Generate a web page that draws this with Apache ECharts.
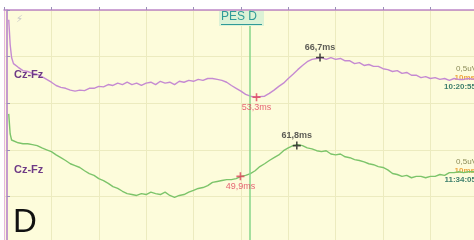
<!DOCTYPE html>
<html>
<head>
<meta charset="utf-8">
<script src="https://cdn.jsdelivr.net/npm/echarts@6/dist/echarts.min.js"></script>
<style>
  html, body { margin: 0; padding: 0; background: #ffffff; }
  #chart { width: 474px; height: 240px; }
</style>
</head>
<body>
<div id="chart"></div>
<script>
// time axis in ms, amplitude in grid divisions (negative up, so axis is inverted)
const times = [1.0, 1.3, 1.6, 2, 3, 4, 5, 6, 7, 8, 9, 10, 11, 12, 13, 14, 15, 16, 17, 18, 19, 20,
  21, 22, 23, 24, 25, 26, 27, 28, 29, 30, 31, 32, 33, 34, 35, 36, 37, 38, 39, 40,
  41, 42, 43, 44, 45, 46, 47, 48, 49, 50, 51, 52, 53, 54, 55, 56, 57, 58, 59, 60,
  61, 62, 63, 64, 65, 66, 67, 68, 69, 70, 71, 72, 73, 74, 75, 76, 77, 78, 79, 80,
  81, 82, 83, 84, 85, 86, 87, 88, 89, 90, 91, 92, 93, 94, 95, 96, 97, 98, 99.2];

// upper trace Cz-Fz (10:20:55)
const traceTop = [0.21, 0.74, 1.02, 1.15, 1.23, 1.30, 1.32, 1.36, 1.38, 1.43, 1.49, 1.55, 1.62, 1.66, 1.68, 1.72, 1.74, 1.72, 1.73, 1.68, 1.68, 1.64,
  1.65, 1.60, 1.62, 1.57, 1.60, 1.55, 1.60, 1.57, 1.62, 1.57, 1.55, 1.60, 1.53, 1.57, 1.55, 1.60, 1.53, 1.55, 1.51, 1.53,
  1.49, 1.51, 1.47, 1.47, 1.49, 1.51, 1.55, 1.62, 1.68, 1.74, 1.81, 1.85, 1.87, 1.86, 1.85, 1.79, 1.72, 1.64, 1.57, 1.47,
  1.38, 1.28, 1.19, 1.11, 1.06, 1.04, 1.02, 1.06, 1.02, 1.06, 1.04, 1.09, 1.09, 1.15, 1.13, 1.19, 1.17, 1.21, 1.21, 1.26,
  1.28, 1.32, 1.30, 1.36, 1.34, 1.40, 1.40, 1.45, 1.43, 1.47, 1.45, 1.49, 1.47, 1.51, 1.47, 1.49, 1.49, 1.47, 1.49];

// lower trace Cz-Fz (11:34:05)
const traceBottom = [2.23, 2.66, 2.79, 2.83, 2.85, 2.87, 2.87, 2.89, 2.91, 2.96, 3.00, 3.04, 3.11, 3.17, 3.23, 3.30, 3.34, 3.38, 3.45, 3.51, 3.55, 3.62,
  3.66, 3.72, 3.79, 3.83, 3.89, 3.94, 3.96, 3.98, 3.94, 3.96, 3.91, 3.94, 3.96, 3.91, 3.98, 4.02, 3.98, 3.96, 3.91, 3.87,
  3.83, 3.81, 3.77, 3.70, 3.68, 3.66, 3.64, 3.64, 3.62, 3.57, 3.55, 3.51, 3.45, 3.36, 3.30, 3.23, 3.17, 3.11, 3.02, 2.96,
  2.91, 2.89, 2.91, 2.96, 2.98, 3.02, 3.04, 3.02, 3.09, 3.11, 3.09, 3.15, 3.17, 3.21, 3.23, 3.26, 3.30, 3.32, 3.36, 3.38,
  3.43, 3.51, 3.53, 3.57, 3.55, 3.60, 3.57, 3.57, 3.60, 3.57, 3.57, 3.53, 3.55, 3.49, 3.49, 3.47, 3.49, 3.47, 3.47];

// latency markers
const troughTimes = [53.3, 49.9];
const troughVals = [1.87, 3.57];
const troughLabels = ['53,3ms', '49,9ms'];
const peakTimes = [66.7, 61.8];
const peakVals = [1.02, 2.91];
const peakLabels = ['66,7ms', '61,8ms'];

const cursorTime = 51.9;
const cursorName = 'PES D';
const traceName = 'Cz-Fz';
const gainText = '0,5uV';
const sweepText = '10ms';
const clockTop = '10:20:55';
const clockBottom = '11:34:05';

let chart = echarts.init(document.getElementById('chart'));

const plus = 'path://M4,0L6,0L6,4L10,4L10,6L6,6L6,10L4,10L4,6L0,6L0,4L4,4Z';
const font = 'Liberation Sans, Arial, sans-serif';

function rightInfo(top, clock) {
    return [
        { type: 'text', right: -3, top: top, style: { text: gainText, fill: '#8c8c58', font: '8px ' + font } },
        { type: 'text', right: -1, top: top + 9, style: { text: sweepText, fill: '#eda640', font: 'bold 8px ' + font } },
        { type: 'text', right: -2, top: top + 18, style: { text: clock, fill: '#3e7f6c', font: 'bold 8px ' + font } }
    ];
}

chart.setOption({
    animation: false,
    backgroundColor: '#ffffff',
    grid: { left: 4, right: 0, top: 10, bottom: -2, show: true, backgroundColor: '#fdfcdb', borderWidth: 0 },
    xAxis: [{
        type: 'value', min: 0, max: 99.2, interval: 10,
        axisLine: { show: false },
        axisTick: { show: true, inside: true, length: 3, lineStyle: { color: '#9a8fb8' } },
        axisLabel: { show: false },
        splitLine: { show: true, lineStyle: { color: '#ecebbf', width: 1 } }
    }, {
        type: 'value', position: 'top', min: 0, max: 99.2,
        axisLine: { show: true, lineStyle: { color: '#bd86c8', width: 1.5 } },
        axisTick: { show: false }, axisLabel: { show: false }, splitLine: { show: false }
    }],
    yAxis: [{
        type: 'value', inverse: true, min: 0, max: 4.936, interval: 1, offset: -3,
        axisLine: { show: true, lineStyle: { color: '#b07cc8', width: 1.5 } },
        axisTick: { show: true, inside: true, length: 3, lineStyle: { color: '#9a8fb8' } },
        axisLabel: { show: false },
        splitLine: { show: true, lineStyle: { color: '#ecebbf', width: 1 } }
    }, {
        type: 'value', position: 'right', inverse: true, min: 0, max: 4.936,
        axisLine: { show: true, lineStyle: { color: '#e6b8dc', width: 1 } },
        axisTick: { show: false }, axisLabel: { show: false }, splitLine: { show: false }
    }],
    series: [
        {
            type: 'line', name: 'top',
            data: times.map((t, i) => [t, traceTop[i]]),
            showSymbol: false, symbol: 'none',
            lineStyle: { color: '#c58ad2', width: 1.4 },
            markLine: {
                silent: true, symbol: 'none',
                label: { show: false },
                lineStyle: { color: '#86d68a', width: 1.5, type: 'solid' },
                data: [{ xAxis: cursorTime }]
            },
            z: 3
        },
        {
            type: 'line', name: 'bottom',
            data: times.map((t, i) => [t, traceBottom[i]]),
            showSymbol: false, symbol: 'none',
            lineStyle: { color: '#7cc46a', width: 1.4 },
            z: 3
        },
        {
            type: 'scatter',
            data: troughTimes.map((t, i) => [t, troughVals[i]]),
            symbol: plus, symbolSize: 8,
            itemStyle: { color: '#e0405a' },
            label: {
                show: true, position: 'bottom', distance: 2,
                formatter: p => troughLabels[p.dataIndex],
                color: '#e0405a', fontSize: 9, fontFamily: font
            },
            z: 5
        },
        {
            type: 'scatter',
            data: peakTimes.map((t, i) => [t, peakVals[i]]),
            symbol: plus, symbolSize: 8,
            itemStyle: { color: '#222222' },
            label: {
                show: true, position: 'top', distance: 2,
                formatter: p => peakLabels[p.dataIndex],
                color: '#333333', fontSize: 9, fontWeight: 'bold', fontFamily: font
            },
            z: 5
        }
    ],
    graphic: [
        { type: 'text', left: 16, top: 14, style: { text: '\u26A1', fill: '#c8c8c8', font: '10px DejaVu Sans' } },
        { type: 'rect', left: 219, top: 11, shape: { width: 45, height: 15 }, style: { fill: '#dcf2d6' }, z: 10 },
        { type: 'text', left: 221, top: 11, style: { text: cursorName, fill: '#2f9a98', font: '12px ' + font }, z: 11 },
        { type: 'rect', left: 221, top: 24, shape: { width: 41, height: 1 }, style: { fill: '#2f9a98' }, z: 11 },
        { type: 'text', left: 14, top: 69, style: { text: traceName, fill: '#6e3a86', font: 'bold 11px ' + font }, z: 10 },
        { type: 'text', left: 14, top: 164, style: { text: traceName, fill: '#6e3a86', font: 'bold 11px ' + font }, z: 10 },
        { type: 'text', left: 13, top: 206, style: { text: 'D', fill: '#111111', font: '33px ' + font }, z: 10 }
    ].concat(rightInfo(65, clockTop), rightInfo(158, clockBottom))
});
</script>
</body>
</html>
